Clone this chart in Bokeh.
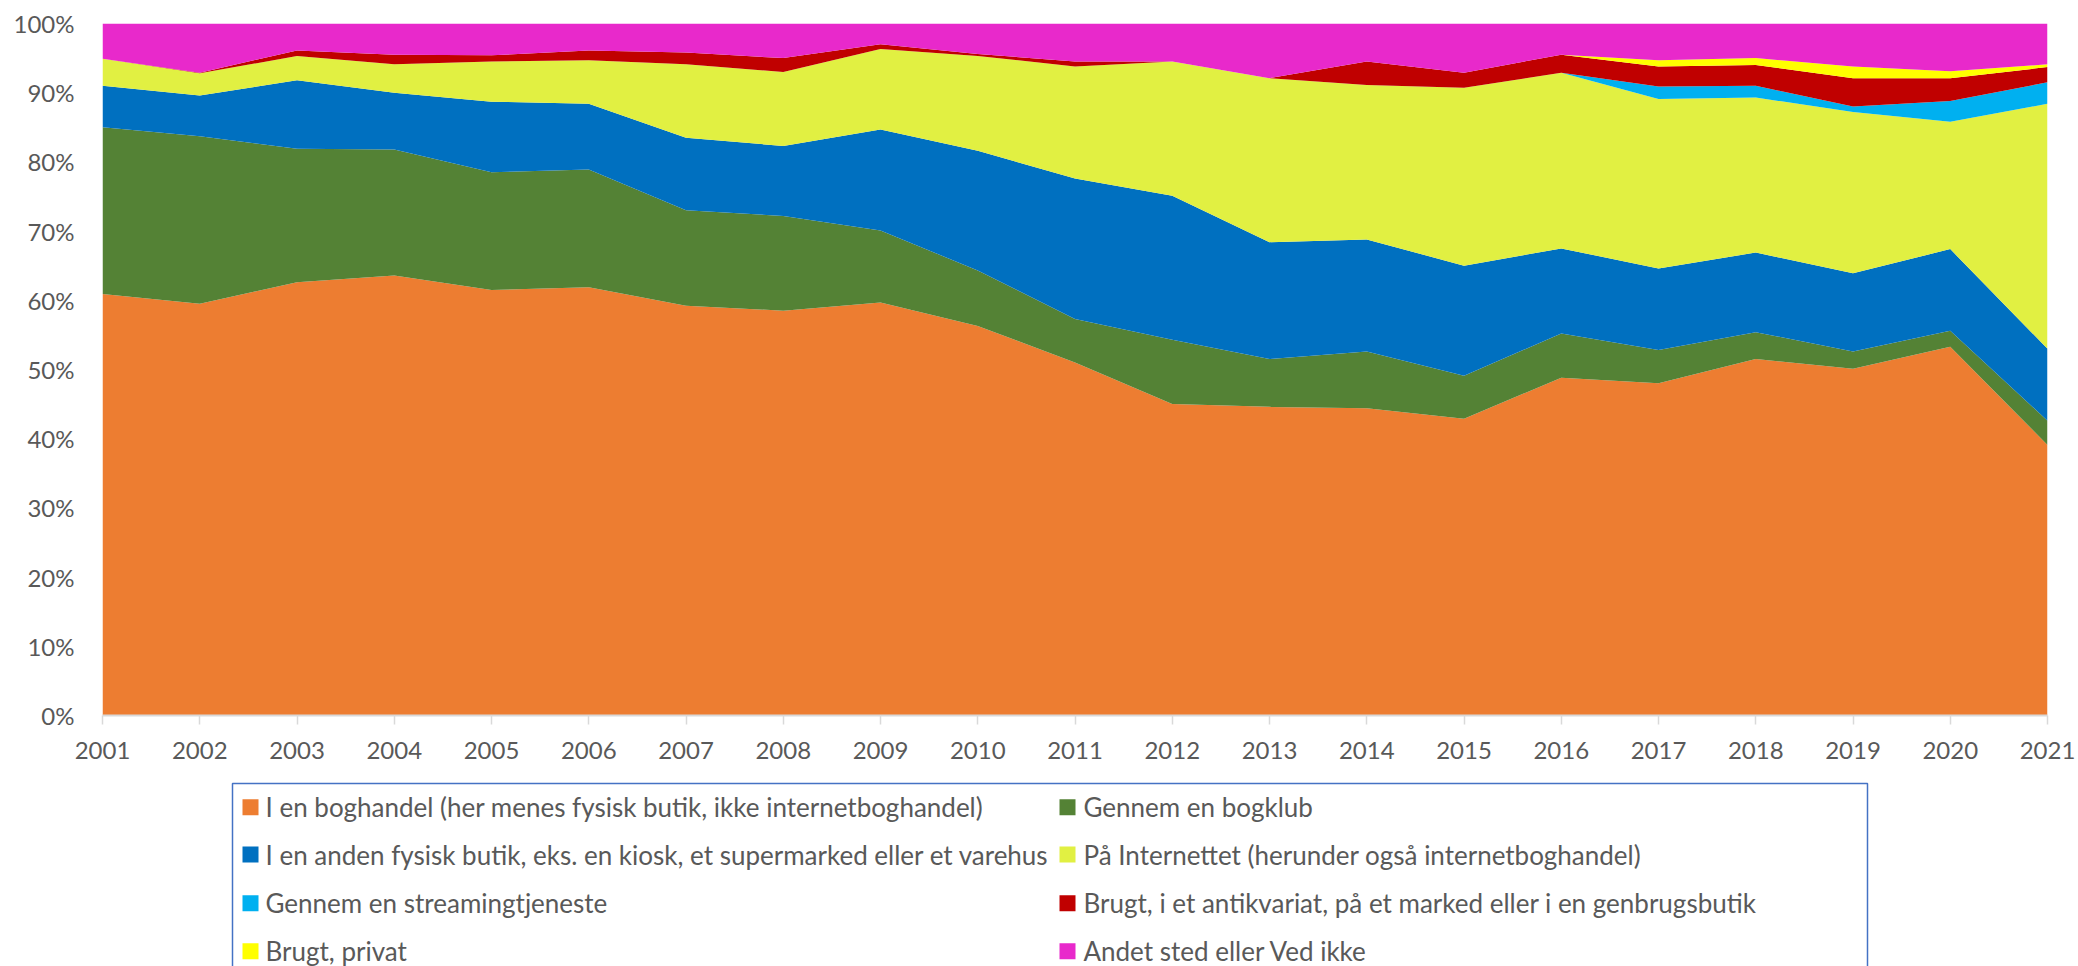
from bokeh.plotting import figure
from bokeh.models import ColumnDataSource, Range1d, FixedTicker, CustomJSTickFormatter
from bokeh.layouts import column
from bokeh.core.properties import value
from bokeh.embed import file_html
from bokeh.resources import INLINE

# ---------------- data (percent of purchases) ----------------
years = [2001, 2002, 2003, 2004, 2005, 2006, 2007, 2008, 2009, 2010, 2011,
         2012, 2013, 2014, 2015, 2016, 2017, 2018, 2019, 2020, 2021]

boghandel   = [60.9, 59.5, 62.6, 63.6, 61.5, 61.9, 59.2, 58.5, 59.7, 56.3, 51.0,
               45.0, 44.6, 44.4, 42.9, 48.8, 48.0, 51.5, 50.1, 53.3, 39.1]
bogklub     = [24.1, 24.2, 19.3, 18.2, 17.0, 17.0, 13.8, 13.7, 10.4, 8.0, 6.3,
               9.3, 6.9, 8.2, 6.2, 6.4, 4.8, 3.9, 2.5, 2.3, 3.5]
anden_butik = [6.0, 5.9, 9.9, 8.2, 10.2, 9.5, 10.5, 10.1, 14.6, 17.3, 20.3,
               20.8, 16.9, 16.2, 15.9, 12.3, 11.8, 11.5, 11.3, 11.8, 10.4]
internet    = [3.9, 3.2, 3.5, 4.1, 5.8, 6.3, 10.6, 10.7, 11.6, 13.7, 16.2,
               19.4, 23.7, 22.3, 25.7, 25.4, 24.5, 22.4, 23.3, 18.4, 35.4]
streaming   = [0.0, 0.0, 0.0, 0.0, 0.0, 0.0, 0.0, 0.0, 0.0, 0.0, 0.0,
               0.0, 0.0, 0.0, 0.0, 0.0, 1.8, 1.7, 0.8, 3.0, 3.1]
antikvariat = [0.0, 0.1, 0.8, 1.4, 0.9, 1.4, 1.7, 2.0, 0.7, 0.3, 0.7,
               0.0, 0.0, 3.4, 2.2, 2.6, 2.9, 3.0, 4.1, 3.3, 2.2]
privat      = [0.0, 0.0, 0.0, 0.0, 0.0, 0.0, 0.0, 0.0, 0.0, 0.0, 0.0,
               0.0, 0.0, 0.0, 0.0, 0.0, 0.9, 1.0, 1.7, 1.0, 0.4]
andet       = [5.1, 7.1, 3.9, 4.5, 4.6, 3.9, 4.2, 5.0, 3.0, 4.4, 5.5,
               5.5, 7.9, 5.5, 7.1, 4.5, 5.3, 5.0, 6.2, 6.9, 5.9]

series_labels = [
    "I en boghandel (her menes fysisk butik, ikke internetboghandel)",
    "Gennem en bogklub",
    "I en anden fysisk butik, eks. en kiosk, et supermarked eller et varehus",
    "På Internettet (herunder også internetboghandel)",
    "Gennem en streamingtjeneste",
    "Brugt, i et antikvariat, på et marked eller i en genbrugsbutik",
    "Brugt, privat",
    "Andet sted eller Ved ikke",
]
y_tick_values = [0, 10, 20, 30, 40, 50, 60, 70, 80, 90, 100]

colors = ["#ED7D31", "#548235", "#0070C0", "#E1F042",
          "#00B0F0", "#C00000", "#FFFF00", "#E829CB"]

keys = ["boghandel", "bogklub", "anden_butik", "internet",
        "streaming", "antikvariat", "privat", "andet"]
source = ColumnDataSource(dict(
    year=years, boghandel=boghandel, bogklub=bogklub, anden_butik=anden_butik,
    internet=internet, streaming=streaming, antikvariat=antikvariat,
    privat=privat, andet=andet))

FONT = "Lato"
GREY = "#595959"
W = 2078
MAIN_H = 768
LH = 198
BL, BR = 102, 31          # left / right borders (frames are aligned in the column)

# ---------------- main chart ----------------
p = figure(width=W, height=MAIN_H, output_backend="svg", toolbar_location=None,
           x_range=Range1d(2001, 2021), y_range=Range1d(0, 100),
           min_border_left=BL, min_border_right=BR, min_border_top=23,
           min_border_bottom=53)
p.varea_stack(stackers=keys, x="year", color=colors, source=source)

p.grid.visible = False
p.outline_line_color = None
p.background_fill_color = "white"
p.border_fill_color = "white"

p.xaxis.ticker = FixedTicker(ticks=years)
p.xaxis.axis_line_color = "#D9D9D9"
p.xaxis.axis_line_width = 2
p.xaxis.major_tick_line_color = "#D9D9D9"
p.xaxis.major_tick_line_width = 1.5
p.xaxis.major_tick_out = 9
p.xaxis.major_tick_in = 0
p.xaxis.minor_tick_line_color = None
p.xaxis.major_label_standoff = 17
p.xaxis.major_label_text_font = FONT
p.xaxis.major_label_text_font_size = "24px"
p.xaxis.major_label_text_color = GREY

p.yaxis.ticker = FixedTicker(ticks=y_tick_values)
p.yaxis.formatter = CustomJSTickFormatter(code="return tick.toFixed(0) + '%';")
p.yaxis.axis_line_color = None
p.yaxis.major_tick_line_color = None
p.yaxis.minor_tick_line_color = None
p.yaxis.major_tick_out = 0
p.yaxis.major_label_standoff = 28
p.yaxis.major_label_text_font = FONT
p.yaxis.major_label_text_font_size = "24px"
p.yaxis.major_label_text_color = GREY

# ---------------- legend (own panel; data units = page pixels) ----------------
lg = figure(width=W, height=LH, output_backend="svg", toolbar_location=None,
            x_range=Range1d(BL, W - BR), y_range=Range1d(LH, 0),
            min_border_left=BL, min_border_right=BR,
            min_border_top=0, min_border_bottom=0)
lg.axis.visible = False
lg.grid.visible = False
lg.outline_line_color = None
lg.background_fill_color = None
lg.border_fill_color = "white"

box_left, box_right, box_top = 232, 1867, 15
lg.multi_line(xs=[[box_left, box_left, box_right, box_right]],
              ys=[[LH + 20, box_top, box_top, LH + 20]],
              line_color="#4472C4", line_width=1.5)

col_marker_x = [250, 1067]
col_text_x = [265, 1083]
row_y = [38.7, 86.0, 134.7, 182.7]
mx, my, tx, ty = [], [], [], []
for i, lab in enumerate(series_labels):
    r, c = divmod(i, 2)
    mx.append(col_marker_x[c]); my.append(row_y[r])
    tx.append(col_text_x[c]); ty.append(row_y[r])
lsrc = ColumnDataSource(dict(mx=mx, my=my, tx=tx, ty=ty, label=series_labels, color=colors))
lg.rect(x="mx", y="my", width=16, height=16, fill_color="color", line_color=None, source=lsrc)
lg.text(x="tx", y="ty", text="label", source=lsrc, text_font=value(FONT),
        text_font_size="26px", text_color=GREY, text_baseline="middle", text_align="left")

layout = column(p, lg, spacing=0)
open("out.html", "w").write(file_html(layout, INLINE))
